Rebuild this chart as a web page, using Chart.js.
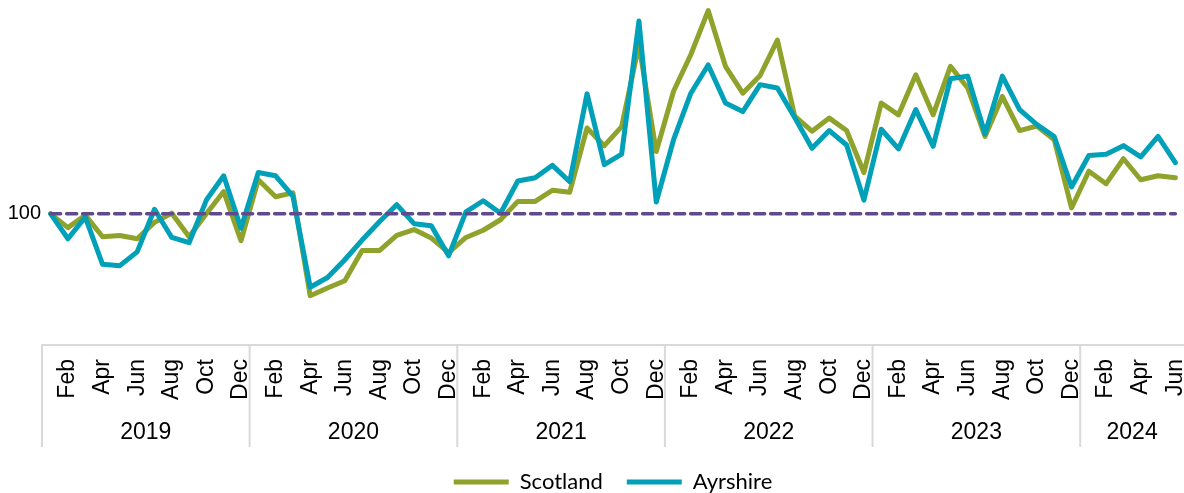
<!DOCTYPE html>
<html>
<head>
<meta charset="utf-8">
<script src="https://cdn.jsdelivr.net/npm/chart.js@4"></script>
<style>
  html, body { margin: 0; padding: 0; background: #fff; overflow: hidden; }
  #wrap { width: 1184px; height: 493px; }
</style>
</head>
<body>
<div id="wrap"><canvas id="chart"></canvas></div>
<script>
const years = ['2019', '2020', '2021', '2022', '2023', '2024'];
const monthNames = ['Jan', 'Feb', 'Mar', 'Apr', 'May', 'Jun', 'Jul', 'Aug', 'Sep', 'Oct', 'Nov', 'Dec'];
const monthsInYear = [12, 12, 12, 12, 12, 6];

const scotland = [
    100.0, 97.9, 99.8, 96.5, 96.7, 96.2, 98.7, 100.1, 96.5, 100.0, 103.4, 95.9,
    105.2, 102.6, 103.2, 87.5, 88.7, 89.8, 94.4, 94.4, 96.7, 97.6, 96.3, 94.1,
    96.4, 97.5, 99.1, 101.9, 101.9, 103.6, 103.3, 113.1, 110.4, 113.3, 125.8, 109.5,
    118.7, 124.3, 131.0, 122.5, 118.4, 121.1, 126.5, 114.9, 112.6, 114.6, 112.7, 106.3,
    116.9, 115.1, 121.2, 115.1, 122.5, 119.2, 111.8, 117.9, 112.7, 113.4, 111.3, 100.9,
    106.5, 104.6, 108.4, 105.2, 105.8, 105.5
];
const ayrshire = [
    100.0, 96.2, 99.5, 92.3, 92.1, 94.2, 100.7, 96.4, 95.6, 102.1, 105.8, 97.8,
    106.3, 105.8, 102.7, 88.8, 90.3, 93.0, 96.0, 98.8, 101.4, 98.5, 98.2, 93.6,
    100.3, 102.0, 100.1, 105.0, 105.5, 107.4, 104.9, 118.3, 107.5, 109.1, 129.4, 101.8,
    111.3, 118.4, 122.7, 116.9, 115.6, 119.7, 119.2, 114.7, 110.0, 112.7, 110.5, 102.1,
    112.9, 109.9, 115.9, 110.3, 120.6, 121.0, 112.2, 121.0, 115.9, 113.6, 111.8, 104.1,
    108.9, 109.1, 110.4, 108.7, 111.8, 107.8
];
const baseValue = 100;
const yTicks = [100];

const labels = years.flatMap((y, i) => monthNames.slice(0, monthsInYear[i]).map(m => m + ' ' + y));

// year group labels + separators under the month ticks
const yearGroups = {
    id: 'yearGroups',
    afterDraw(chart) {
        const x = chart.scales.x;
        const ctx = chart.ctx;
        const half = (x.getPixelForValue(1) - x.getPixelForValue(0)) / 2;
        const top = x.top;
        ctx.save();
        ctx.strokeStyle = '#d9d9d9';
        ctx.lineWidth = 2;
        ctx.fillStyle = '#000';
        ctx.font = '23px "Liberation Sans", Arial, sans-serif';
        ctx.textAlign = 'center';
        ctx.textBaseline = 'middle';
        let start = 0;
        years.forEach((y, i) => {
            const end = start + monthsInYear[i] - 1;
            const left = x.getPixelForValue(start) - half;
            const right = x.getPixelForValue(end) + half;
            ctx.beginPath();
            ctx.moveTo(left, top);
            ctx.lineTo(left, top + 102);
            ctx.stroke();
            ctx.fillText(y, (left + right) / 2, top + 88);
            start = end + 1;
        });
        ctx.restore();
    }
};

const ctx = document.getElementById('chart').getContext('2d');
new Chart(ctx, {
    type: 'line',
    data: {
        labels: labels,
        datasets: [{
            label: 'Scotland',
            data: scotland,
            borderColor: '#8fa22b',
            backgroundColor: '#8fa22b',
            borderWidth: 5,
            order: 2
        }, {
            label: 'Ayrshire',
            data: ayrshire,
            borderColor: '#00a0b8',
            backgroundColor: '#00a0b8',
            borderWidth: 5,
            order: 1
        }, {
            label: 'Base',
            data: labels.map(() => baseValue),
            borderColor: '#604a8c',
            borderWidth: 3.5,
            borderDash: [10, 6],
            order: 0
        }]
    },
    options: {
        responsive: true,
        maintainAspectRatio: false,
        animation: false,
        layout: { padding: { top: 4, right: 0, left: 0, bottom: -10 } },
        elements: {
            point: { radius: 0 },
            line: { tension: 0, borderJoinStyle: 'round', borderCapStyle: 'round' }
        },
        scales: {
            x: {
                offset: true,
                grid: { display: false, drawTicks: false },
                border: { display: true, color: '#d9d9d9', width: 2 },
                ticks: {
                    autoSkip: false,
                    minRotation: 90,
                    maxRotation: 90,
                    padding: 14,
                    color: '#000',
                    font: { family: '"Liberation Sans", Arial, sans-serif', size: 23 },
                    callback: function (value, index) {
                        return index % 2 === 1 ? this.getLabelForValue(value).split(' ')[0] : '';
                    }
                },
                afterFit(scale) {
                    scale.height = 102;
                    scale.paddingLeft = 0;
                    scale.paddingRight = 0;
                }
            },
            y: {
                min: 80,
                max: 132,
                grid: { display: false, drawTicks: false },
                border: { display: false },
                ticks: {
                    padding: 1,
                    color: '#000',
                    font: { family: '"Liberation Sans", Arial, sans-serif', size: 20 }
                },
                afterBuildTicks(scale) { scale.ticks = yTicks.map(v => ({ value: v })); },
                afterFit(scale) {
                    scale.width = 42;
                    scale.paddingTop = 0;
                    scale.paddingBottom = 0;
                }
            }
        },
        plugins: {
            tooltip: { enabled: false },
            legend: {
                position: 'bottom',
                fullSize: false,
                labels: {
                    boxWidth: 55,
                    boxHeight: 5,
                    padding: 24,
                    color: '#000',
                    font: { family: 'Lato, sans-serif', size: 22 },
                    filter: item => item.datasetIndex !== 2,
                    sort: (a, b) => a.datasetIndex - b.datasetIndex,
                    generateLabels(chart) {
                        return Chart.defaults.plugins.legend.labels.generateLabels(chart)
                            .map(l => Object.assign(l, { lineWidth: 0 }));
                    }
                }
            }
        }
    },
    plugins: [yearGroups]
});
</script>
</body>
</html>
